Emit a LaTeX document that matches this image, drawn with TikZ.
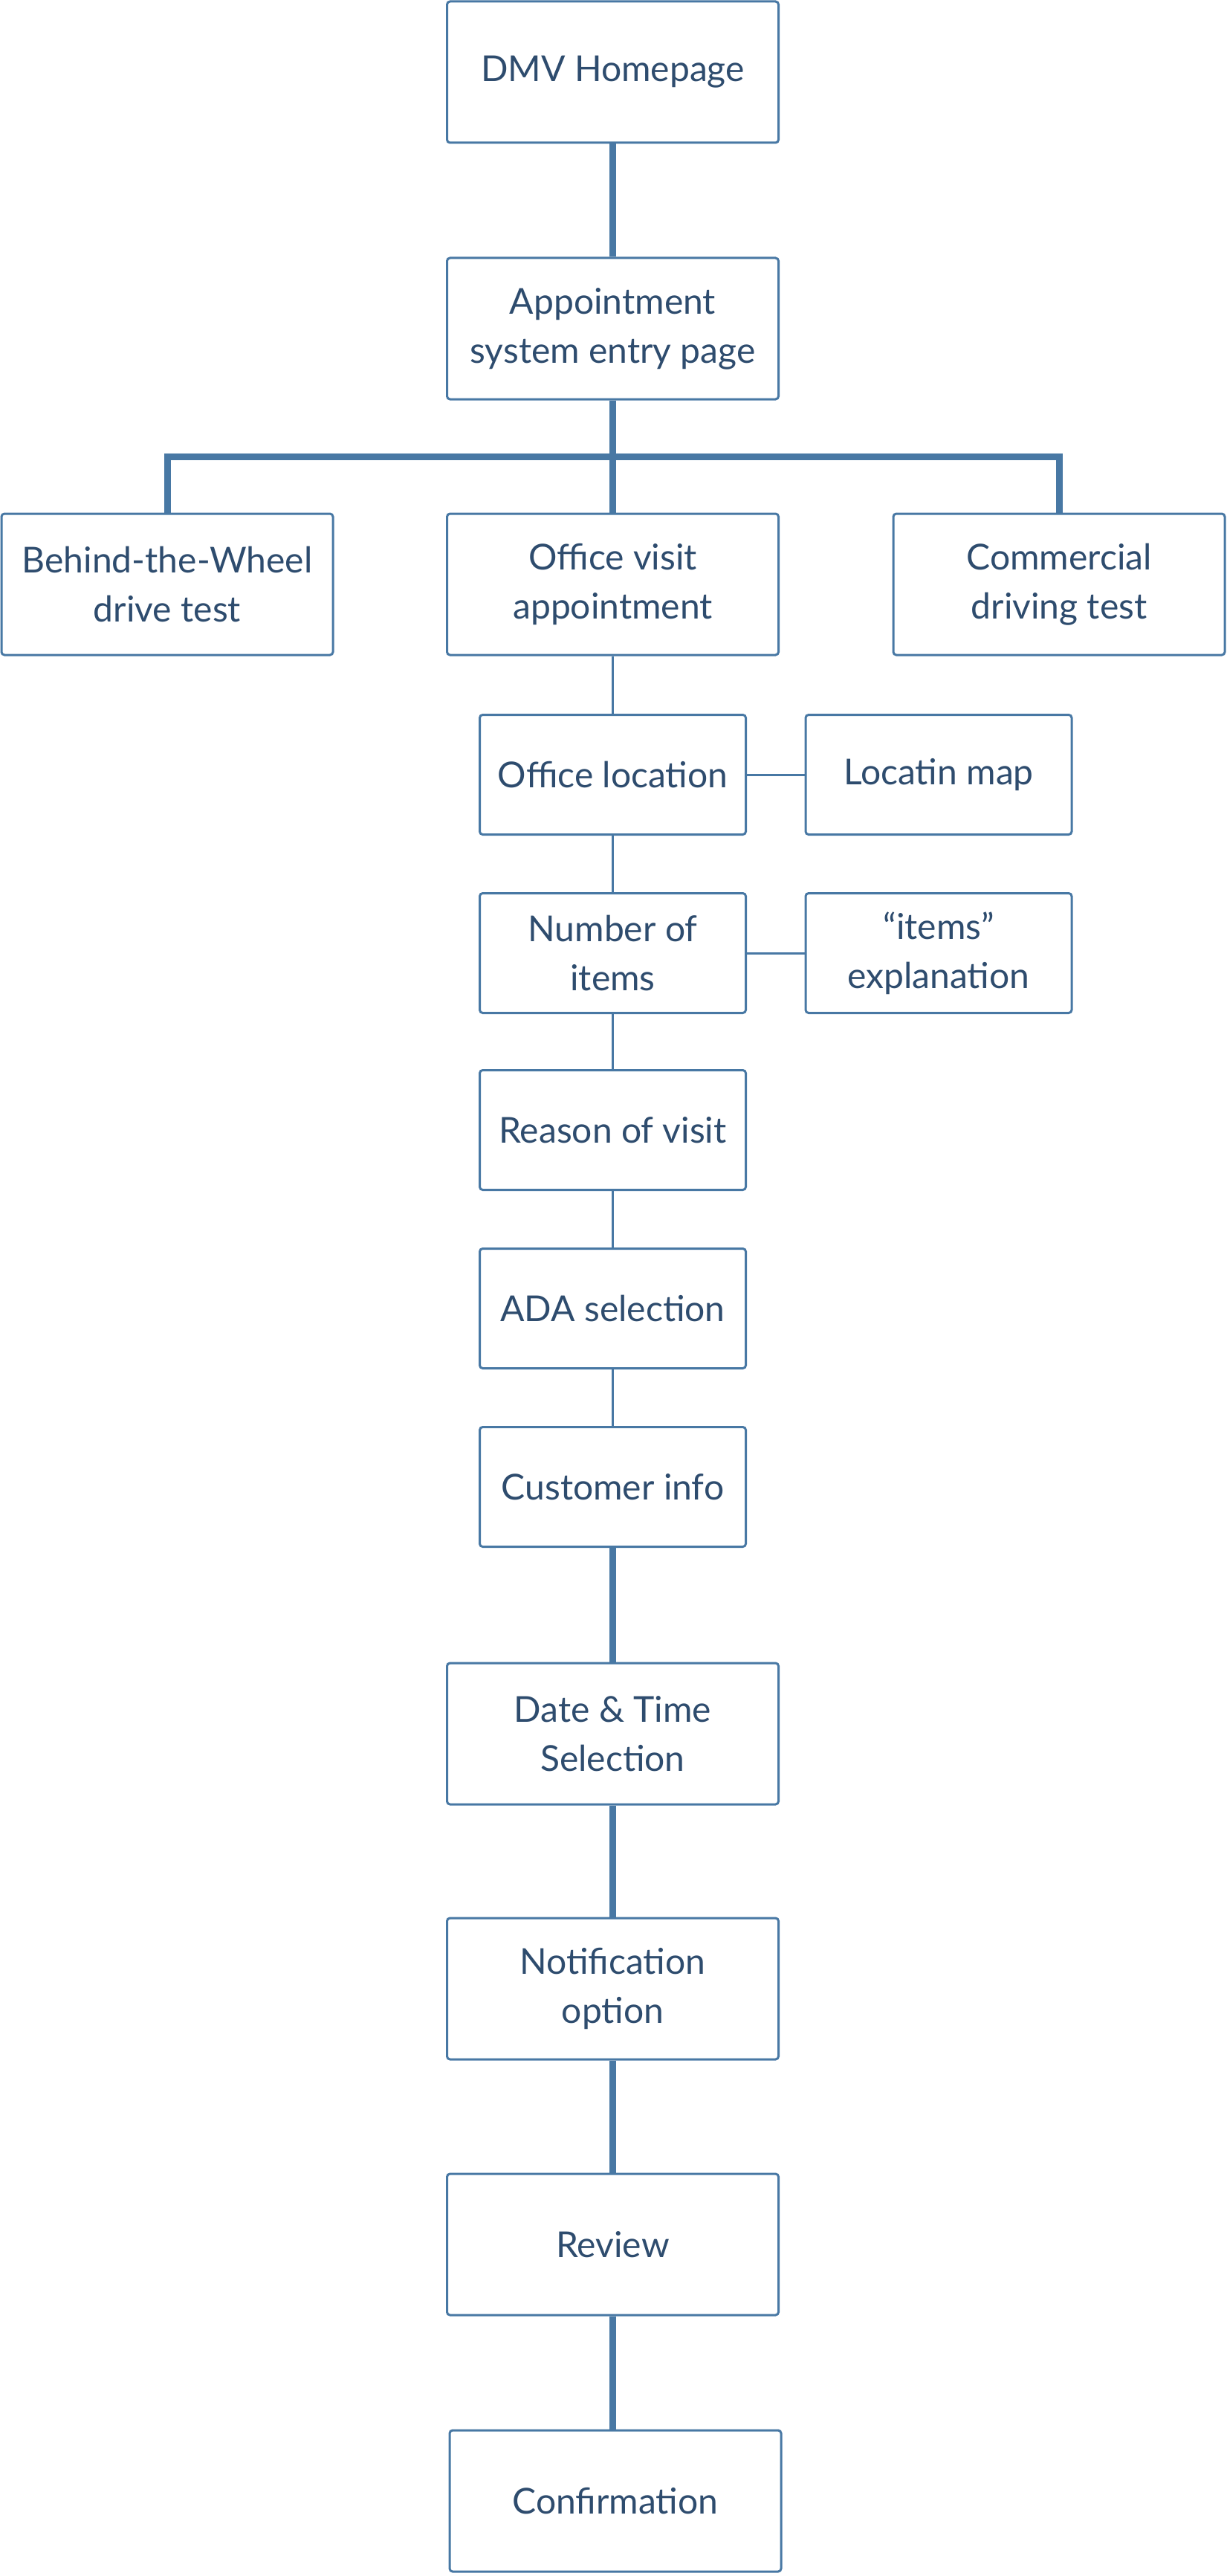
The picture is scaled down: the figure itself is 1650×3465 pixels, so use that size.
\documentclass[tikz,border=0pt]{standalone}
\usepackage{fontspec}
\setmainfont{Lato}
\definecolor{lineblue}{HTML}{4878A4}
\definecolor{textblue}{HTML}{2E4C6E}
\begin{document}
\begin{tikzpicture}[x=1pt,y=-1pt,
  box/.style={draw=lineblue, line width=3pt, rounded corners=4pt, fill=white,
    text=textblue, align=center, inner sep=0pt,
    font=\fontsize{48}{66}\selectfont},
  bigbox/.style={box, minimum width=446pt, minimum height=190pt},
  smallbox/.style={box, minimum width=358pt, minimum height=161pt},
  thickline/.style={draw=lineblue, line width=9pt},
  thinline/.style={draw=lineblue, line width=3pt}]
\useasboundingbox (0,0) rectangle (1650,3465);
% nodes
\node[bigbox] (home) at (824.5,97) {DMV Homepage};
\node[bigbox] (entry) at (824.5,442) {Appointment\\system entry page};
\node[bigbox] (btw) at (225,786) {Behind-the-Wheel\\drive test};
\node[bigbox] (office) at (824.5,786) {Office visit\\appointment};
\node[bigbox] (comm) at (1425,786) {Commercial\\driving test};
\node[smallbox] (loc) at (824.5,1042) {Office location};
\node[smallbox] (map) at (1263,1042) {Locatin map};
\node[smallbox] (num) at (824.5,1282) {Number of\\items};
\node[smallbox] (expl) at (1263,1282) {“items”\\explanation};
\node[smallbox] (reason) at (824.5,1520) {Reason of visit};
\node[smallbox] (ada) at (824.5,1760) {ADA selection};
\node[smallbox] (cust) at (824.5,2000) {Customer info};
\node[bigbox] (date) at (824.5,2332) {Date \& Time\\Selection};
\node[bigbox] (notif) at (824.5,2675) {Notification\\option};
\node[bigbox] (review) at (824.5,3019) {Review};
\node[bigbox] (conf) at (828,3364) {Confirmation};
\coordinate (bus) at (824.5,614);
% connectors
\draw[thickline] (home.south) -- (entry.north);
\draw[thickline] (entry.south) -- (bus);
\draw[thickline] (btw.north) |- (bus) -| (comm.north);
\draw[thickline] (bus) -- (office.north);
\draw[thinline] (office.south) -- (loc.north);
\draw[thinline] (loc.east) -- (map.west);
\draw[thinline] (loc.south) -- (num.north);
\draw[thinline] (num.east) -- (expl.west);
\draw[thinline] (num.south) -- (reason.north);
\draw[thinline] (reason.south) -- (ada.north);
\draw[thinline] (ada.south) -- (cust.north);
\draw[thickline] (cust.south) -- (date.north);
\draw[thickline] (date.south) -- (notif.north);
\draw[thickline] (notif.south) -- (review.north);
\draw[thickline] (review.south) -- (review.south |- conf.north);
\end{tikzpicture}
\end{document}
